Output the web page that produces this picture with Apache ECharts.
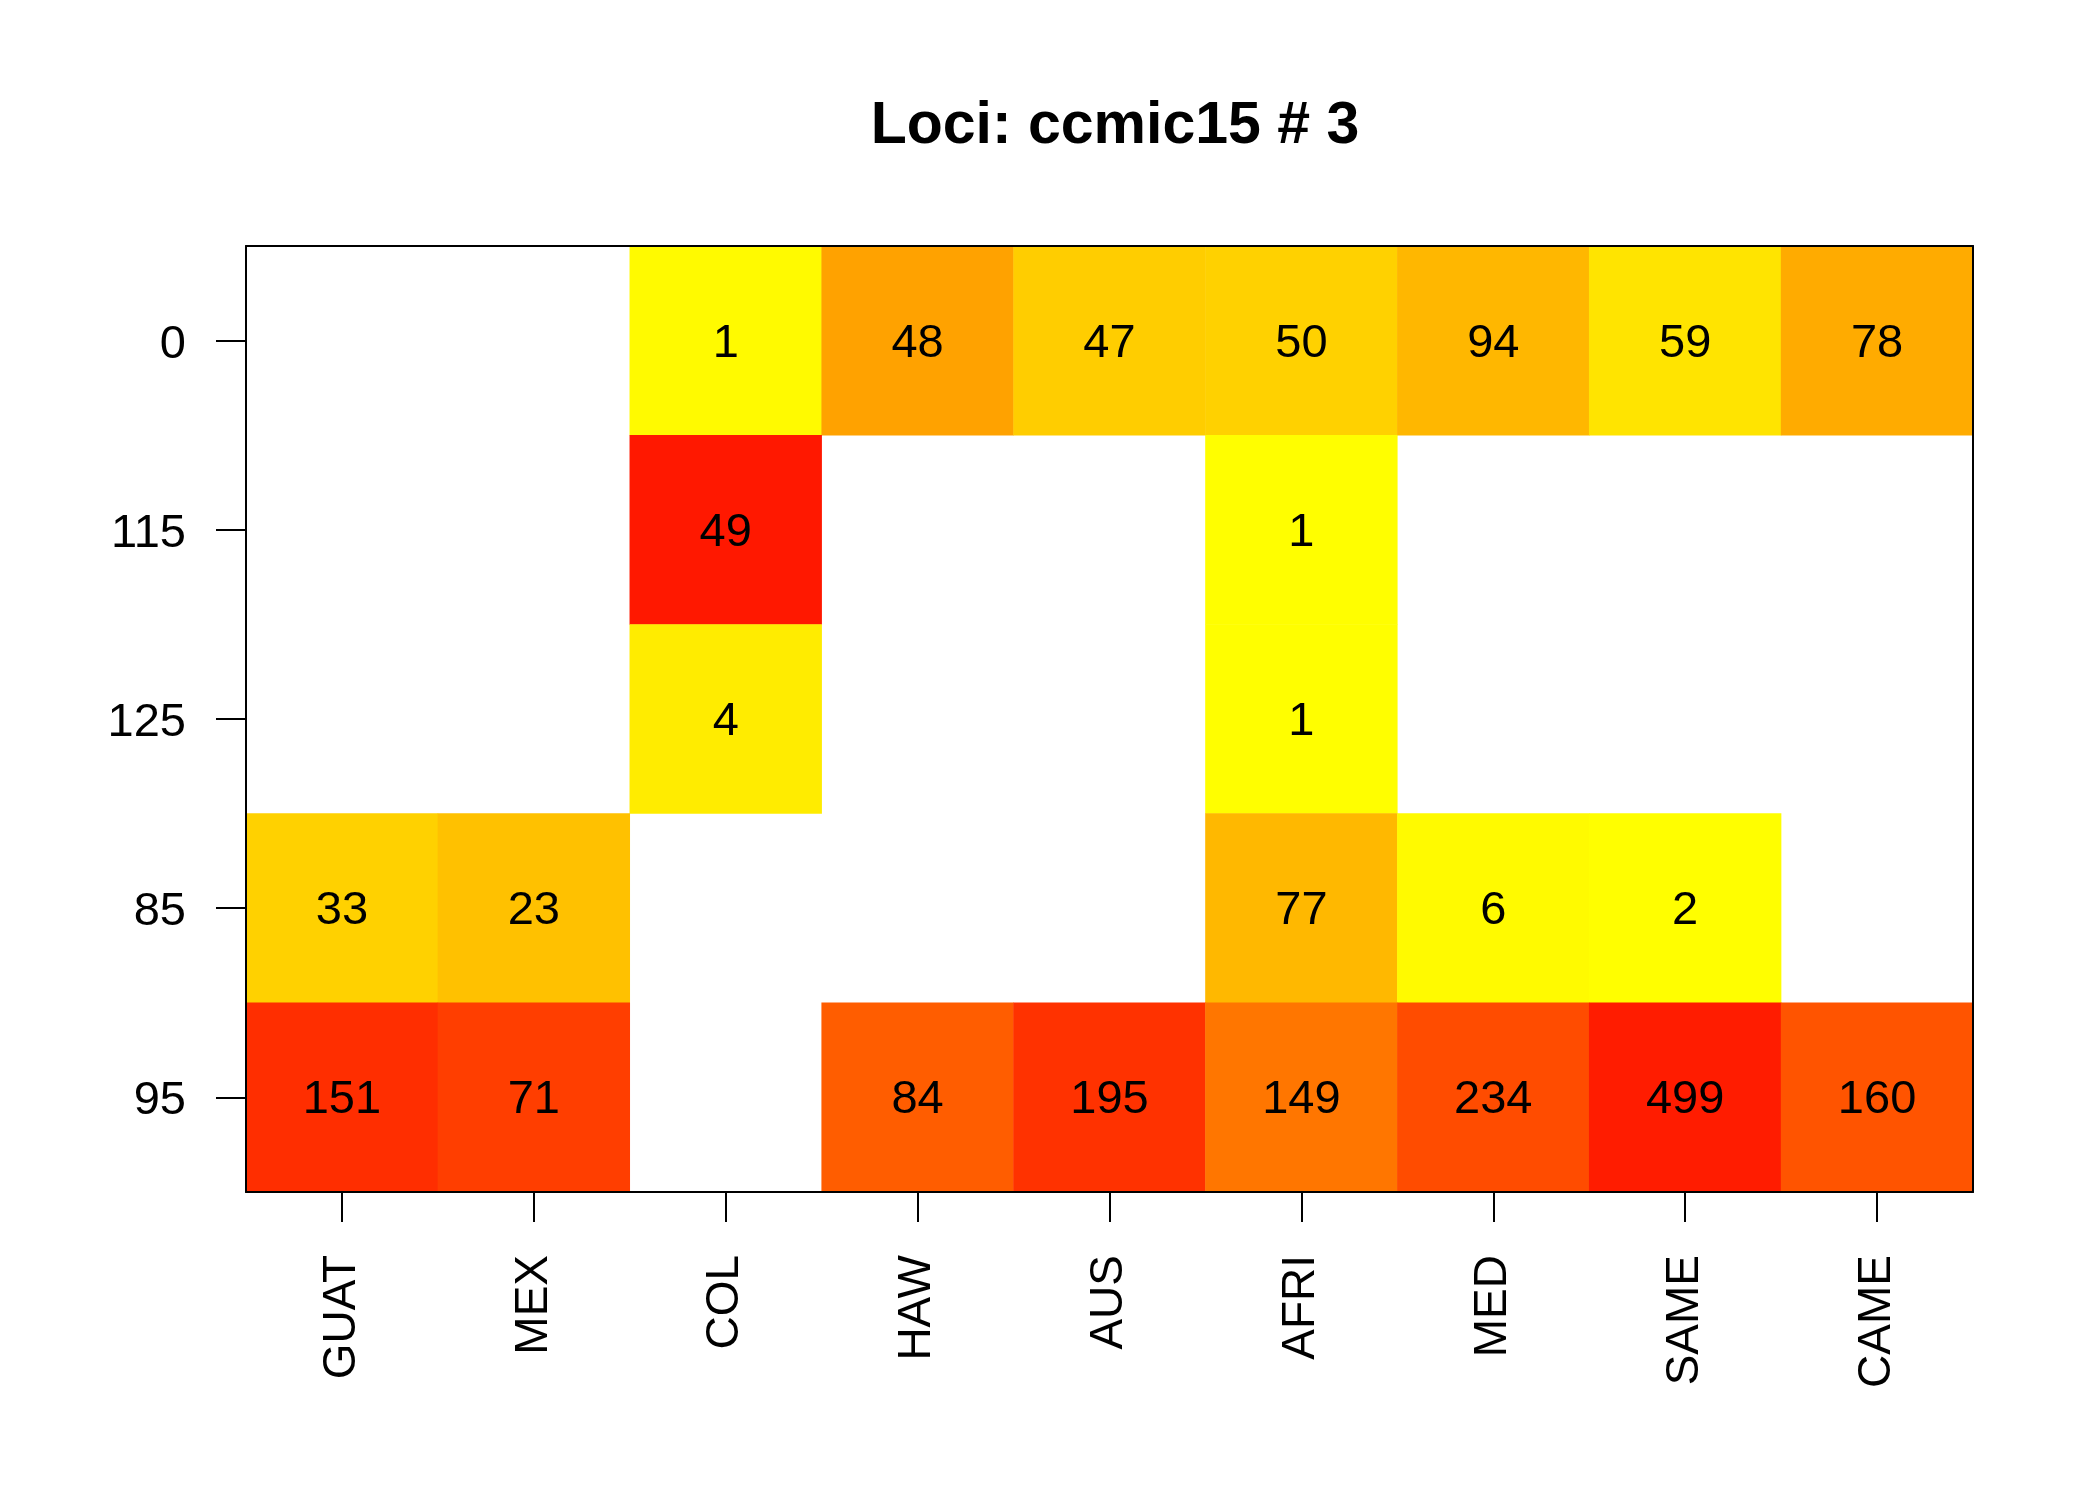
<!DOCTYPE html>
<html>
<head>
<meta charset="utf-8">
<script src="https://cdn.jsdelivr.net/npm/echarts@6/dist/echarts.min.js"></script>
<style>html,body{margin:0;padding:0;background:#fff;}#c{width:2100px;height:1500px;}</style>
</head>
<body>
<div id="c"></div>
<script>
const titleText = 'Loci: ccmic15 # 3';
const populations = ['GUAT','MEX','COL','HAW','AUS','AFRI','MED','SAME','CAME'];
const alleles = ['0','115','125','85','95'];
const row0   = [null,null,1,48,47,50,94,59,78];
const row115 = [null,null,49,null,null,1,null,null,null];
const row125 = [null,null,4,null,null,1,null,null,null];
const row85  = [33,23,null,null,null,77,6,2,null];
const row95  = [151,71,null,84,195,149,234,499,160];

const rows = [row0,row115,row125,row85,row95];
const colTotals = populations.map((p,i)=>rows.reduce((s,r)=>s+(r[i]||0),0));
const data = [];
rows.forEach((r,yi)=>r.forEach((v,xi)=>{
  if(v!==null) data.push([xi,yi,v,v/colTotals[xi]]);
}));

const FONT = 'Liberation Sans';
const lineStyle = {color:'#000',width:2};
const chart = echarts.init(document.getElementById('c'),null,{renderer:'canvas'});
chart.setOption({
  backgroundColor:'#fff',
  animation:false,
  title:{
    text:titleText, left:1110, top:92, textAlign:'center',
    textStyle:{fontFamily:FONT,fontWeight:'bold',fontSize:59,color:'#000'}
  },
  grid:{left:246,top:246,width:1727,height:946,show:false},
  xAxis:[{
    type:'category', data:populations, position:'bottom', z:5,
    axisLine:{show:true,lineStyle:lineStyle},
    axisTick:{show:true,alignWithLabel:true,length:30,inside:false,lineStyle:lineStyle},
    axisLabel:{rotate:90,margin:63,fontSize:46,fontFamily:FONT,color:'#000',interval:0},
    splitLine:{show:false}
  },{
    type:'category', data:populations, position:'top', z:5,
    axisLine:{show:true,lineStyle:lineStyle},
    axisTick:{show:false}, axisLabel:{show:false}, splitLine:{show:false}
  }],
  yAxis:[{
    type:'category', data:alleles, inverse:true, position:'left', z:5,
    axisLine:{show:true,lineStyle:lineStyle},
    axisTick:{show:true,alignWithLabel:true,length:30,lineStyle:lineStyle},
    axisLabel:{margin:60,interval:0,color:'#000',
      formatter:v=>'{t|'+v+'}',
      rich:{t:{fontSize:47,fontFamily:FONT,color:'#000',padding:[8,0,0,0]}}},
    splitLine:{show:false}
  },{
    type:'category', data:alleles, inverse:true, position:'right', z:5,
    axisLine:{show:true,lineStyle:lineStyle},
    axisTick:{show:false}, axisLabel:{show:false}, splitLine:{show:false}
  }],
  visualMap:{
    show:false, type:'continuous', dimension:3, min:0, max:1, seriesIndex:0,
    inRange:{color:['#FFFF00','#FF0000']}
  },
  series:[{
    type:'heatmap', xAxisIndex:0, yAxisIndex:0, data:data,
    encode:{x:0,y:1,value:3},
    label:{show:true,formatter:p=>String(p.data[2]),fontSize:47,fontFamily:FONT,color:'#000',offset:[0,3]},
    emphasis:{disabled:true},
    itemStyle:{borderWidth:0}
  }]
});
</script>
</body>
</html>
